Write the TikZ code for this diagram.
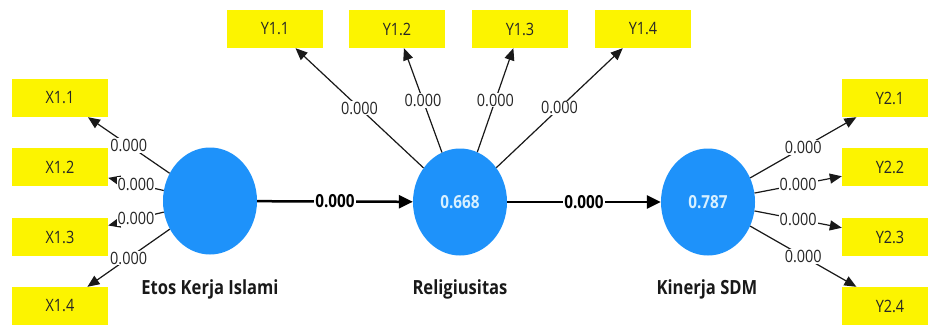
\documentclass[tikz,border=0pt]{standalone}
\usepackage{fontspec}
\setmainfont{Open Sans}[FakeStretch=0.85]
\usetikzlibrary{shapes.geometric,arrows.meta}
\definecolor{boxyellow}{RGB}{252,244,0}
\definecolor{lvblue}{RGB}{30,146,250}
\definecolor{valtext}{RGB}{215,240,255}
\begin{document}
\begin{tikzpicture}[x=1pt,y=-1pt,
  ind/.style={rectangle, fill=boxyellow, minimum width=96pt, minimum height=38pt, inner sep=0pt,
    font=\fontsize{17}{20}\selectfont, text=black!85},
  lv/.style={ellipse, fill=lvblue, minimum width=94pt, minimum height=107pt, inner sep=0pt,
    font=\fontsize{18}{20}\selectfont\bfseries, text=valtext},
  lvname/.style={anchor=base, font=\fontsize{19.5}{22}\selectfont\bfseries, text=black!90},
  load/.style={draw=black!90, line width=1.2pt, -{Triangle[length=12pt,width=10pt]}},
  struct/.style={draw=black, line width=2.5pt, -{Triangle[length=14pt,width=13pt]}},
  lbl/.style={fill=white, inner sep=1pt, font=\fontsize{17}{20}\selectfont, text=black!85},
  slbl/.style={fill=white, inner sep=1.5pt, font=\fontsize{18}{20}\selectfont\bfseries, text=black}]
\useasboundingbox (0,0) rectangle (928,324);
\clip (0,0) rectangle (928,324);
\fill[white] (0,0) rectangle (928,324);

% latent variables
\node[lv] (etos) at (210,201) {};
\node[lv] (rel) at (460,202) {0.668};
\node[lv] (kin) at (708,202) {0.787};
\node[lvname] (etosname) at (210,294) {Etos Kerja Islami};
\node[lvname] (relname) at (460,294) {Religiusitas};
\node[lvname] (kinname) at (707,294) {Kinerja SDM};

% indicators
\node[ind] (x11) at (60,98) {X1.1};
\node[ind] (x12) at (60,167) {X1.2};
\node[ind] (x13) at (60,237) {X1.3};
\node[ind] (x14) at (60,306) {X1.4};
\node[ind] (y11) at (275,29) {Y1.1};
\node[ind] (y12) at (397,29) {Y1.2};
\node[ind] (y13) at (520,29) {Y1.3};
\node[ind] (y14) at (643,29) {Y1.4};
\node[ind] (y21) at (890,98) {Y2.1};
\node[ind] (y22) at (890,167) {Y2.2};
\node[ind] (y23) at (890,237) {Y2.3};
\node[ind] (y24) at (890,306) {Y2.4};

% loadings
\foreach \t in {x11,x12,x13,x14}
  \draw[load] (etos) -- node[lbl]{0.000} (\t);
\foreach \t in {y11,y12,y13,y14}
  \draw[load] (rel) -- node[lbl]{0.000} (\t);
\foreach \t in {y21,y22,y23,y24}
  \draw[load] (kin) -- node[lbl]{0.000} (\t);

% structural paths
\draw[struct] (etos) -- node[slbl]{0.000} (rel);
\draw[struct] (rel) -- node[slbl]{0.000} (kin);
\end{tikzpicture}
\end{document}
